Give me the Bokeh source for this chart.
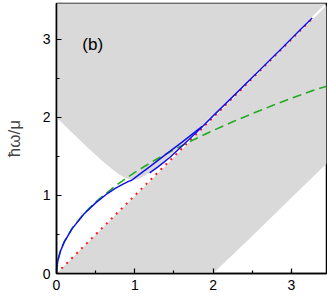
from bokeh.plotting import figure
from bokeh.models import Range1d, FixedTicker, Label
from bokeh.embed import file_html
from bokeh.resources import INLINE

# ---- data ----
# upper shaded region: lower boundary
q_up = [0, 0.2, 0.4, 0.6, 0.7, 0.8, 0.9, 0.98, 1.05, 1.19, 1.4, 1.6, 1.8, 2.0, 2.5, 3.0, 3.45]
w_up = [2.0, 1.805, 1.61, 1.43, 1.344, 1.27, 1.215, 1.2, 1.212, 1.29, 1.465, 1.652, 1.844, 2.04, 2.532, 3.027, 3.473]
# lower shaded region: upper and lower boundaries
q_lo_top = [0, 1.0, 2.0, 3.0, 3.45]
w_lo_top = [0, 0.99, 1.987, 2.985, 3.435]
q_lo_bot = [0, 2.0, 2.5, 3.0, 3.45]
w_lo_bot = [0, 0, 0.48, 0.97, 1.41]

# green dashed curve
q_green = [0, 0.02, 0.05, 0.1, 0.2, 0.35, 0.5, 0.75, 1.0, 1.25, 1.5, 1.75, 2.0, 2.25, 2.5, 2.75, 3.0, 3.25, 3.45]
w_green = [0, 0.18, 0.29, 0.41, 0.58, 0.767, 0.917, 1.122, 1.296, 1.449, 1.587, 1.715, 1.833, 1.944, 2.049, 2.149, 2.245, 2.337, 2.4]

# blue branch A
q_blueA = [0, 0.005, 0.02, 0.05, 0.1, 0.2, 0.35, 0.5, 0.65, 0.75, 0.85, 0.92, 0.96, 1.0, 1.2, 1.4, 1.6, 1.86]
w_blueA = [0, 0.09, 0.175, 0.285, 0.405, 0.575, 0.762, 0.905, 1.025, 1.09, 1.145, 1.18, 1.195, 1.225, 1.375, 1.53, 1.68, 1.885]
# blue branch B
q_blueB = [1.19, 1.3, 1.45, 1.6, 1.8, 2.0, 2.3, 2.6, 2.9, 3.1, 3.265]
w_blueB = [1.29, 1.37, 1.49, 1.63, 1.82, 2.02, 2.315, 2.61, 2.91, 3.11, 3.275]

# red dotted line
q_red = [0, 3.27]
w_red = [0, 3.27]

x_ticks = [0, 1, 2, 3]
y_ticks = [0, 1, 2, 3]
minor_ticks = [0.5, 1.5, 2.5, 3.0]

X_MAX = 3.448
Y_MAX = 3.46

p = figure(frame_width=270, frame_height=270, output_backend="svg", toolbar_location=None,
           x_range=Range1d(0, X_MAX), y_range=Range1d(0, Y_MAX),
           min_border_left=56, min_border_right=1, min_border_top=3, min_border_bottom=22)
p.background_fill_color = "white"
p.border_fill_color = "white"
p.outline_line_color = "black"
p.outline_line_width = 1.5
p.grid.visible = False

GRAY = "#d9d9d9"
p.varea(x=q_up, y1=w_up, y2=[5] * len(q_up), fill_color=GRAY)
p.patch(x=q_lo_top + q_lo_bot[::-1], y=w_lo_top + w_lo_bot[::-1], fill_color=GRAY, line_color=None)

p.line(q_red, w_red, line_color="#ff1a1a", line_width=2, line_dash="2 5")
p.line(q_green, w_green, line_color="#22aa22", line_width=1.6, line_dash="9 5")
p.line(q_blueA, w_blueA, line_color="#1010ee", line_width=1.5)
p.line(q_blueB, w_blueB, line_color="#1010ee", line_width=1.5)

p.add_layout(Label(x=0.33, y=2.94, text="(b)", text_font="Liberation Sans",
                   text_font_size="17px", text_baseline="middle", text_color="black"))

for ax in (p.xaxis[0], p.yaxis[0]):
    ax.major_tick_in = 5
    ax.major_tick_out = 0
    ax.minor_tick_in = 3
    ax.minor_tick_out = 0
    ax.axis_line_width = 1.5
    ax.major_tick_line_width = 1.2
    ax.minor_tick_line_width = 1.2
    ax.major_label_text_font = "Liberation Sans"
    ax.major_label_text_font_size = "14px"
    ax.major_label_text_color = "black"
    ax.major_label_standoff = 6

p.xaxis.ticker = FixedTicker(ticks=x_ticks, minor_ticks=minor_ticks)
p.yaxis.ticker = FixedTicker(ticks=y_ticks, minor_ticks=minor_ticks)
p.yaxis.axis_label = "ħω/μ"
p.yaxis.axis_label_text_font = "Liberation Sans"
p.yaxis.axis_label_text_font_size = "17px"
p.yaxis.axis_label_text_font_style = "normal"
p.yaxis.axis_label_standoff = 16

open("out.html", "w").write(file_html(p, INLINE))
